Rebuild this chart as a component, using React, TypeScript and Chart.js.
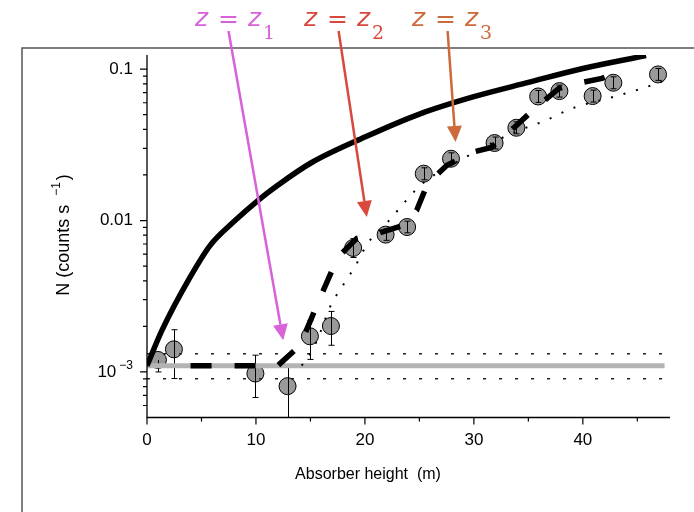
import React, { useEffect, useRef } from 'react';
import { Chart, registerables } from 'chart.js';

Chart.register(...registerables);

// ---------- data ----------
const xMin = 0;
const xMax = 48;
const yMin = 5e-4;
const yMax = 0.124;

const xTickValues = [0, 10, 20, 30, 40];
const xTickLabels = ['0', '10', '20', '30', '40'];
const xMinorTicks = [5, 15, 25, 35, 45];

const yTickValues = [0.001, 0.01, 0.1];
const yTickLabels = ['10', '0.01', '0.1'];
const yTickExponents = ['\u22123', '', ''];
const yMinorTicks = [
  6e-4, 7e-4, 8e-4, 9e-4,
  2e-3, 3e-3, 4e-3, 5e-3, 6e-3, 7e-3, 8e-3, 9e-3,
  2e-2, 3e-2, 4e-2, 5e-2, 6e-2, 7e-2, 8e-2, 9e-2,
];

// measured points
const pointX = [1.0, 2.47, 9.95, 12.9, 14.95, 16.88, 18.92, 21.9, 23.87, 25.4, 27.9, 31.9, 33.9, 35.9, 37.85, 40.9, 42.8, 46.9];
const pointN = [1.2e-3, 1.41e-3, 0.976e-3, 0.805e-3, 1.72e-3, 2.01e-3, 6.59e-3, 8.07e-3, 9.06e-3, 0.0204, 0.0256, 0.0325, 0.041, 0.066, 0.0716, 0.0664, 0.0813, 0.0923];
const pointLow = [1.0e-3, 0.904e-3, 0.678e-3, 0.5e-3, 1.21e-3, 1.5e-3, 5.7e-3, 7.4e-3, 8.3e-3, 0.0186, 0.0234, 0.0297, 0.0374, 0.0603, 0.0654, 0.0606, 0.0742, 0.0843];
const pointHigh = [1.2e-3, 1.9e-3, 1.29e-3, 1.107e-3, 2.19e-3, 2.51e-3, 7.6e-3, 8.8e-3, 9.9e-3, 0.0223, 0.028, 0.0356, 0.0449, 0.0723, 0.0784, 0.0727, 0.089, 0.101];

// background level and its band
const bgLevel = 1.1e-3;
const bgUpper = 1.32e-3;
const bgLower = 0.9e-3;
const bgX = [0, 47.5];

// model curves
const solidX = [0, 1.37, 3.97, 5.8, 7.93, 10.2, 12, 15, 20, 25, 30, 35, 40, 45.8];
const solidN = [1.1e-3, 1.88e-3, 4.24e-3, 6.86e-3, 9.77e-3, 0.0136, 0.0171, 0.0239, 0.0356, 0.0505, 0.0658, 0.0817, 0.101, 0.123];

const dashX = [4.0, 12.0, 14.05, 15.7, 17.5, 19.25, 21.2, 23.5, 24.75, 25.76, 27.5, 29.8, 31.6, 33.7, 35.6, 37.8, 39.5, 41.75, 43.6];
const dashN = [1.1e-3, 1.1e-3, 1.5e-3, 2.88e-3, 5.71e-3, 7.62e-3, 8.22e-3, 9.29e-3, 0.01167, 0.0176, 0.0231, 0.0282, 0.0304, 0.0412, 0.055, 0.0746, 0.0805, 0.0869, 0.0995];

const dotX = [14.2, 15.1, 15.87, 16.8, 18.16, 19.07, 20.27, 22.1, 23.8, 25.3, 29.3, 33.5, 36.6, 39.0, 42.7, 45.8, 47.9];
const dotN = [1.1e-3, 1.36e-3, 1.8e-3, 2.69e-3, 3.91e-3, 4.93e-3, 7.08e-3, 9.78e-3, 0.0136, 0.0176, 0.0263, 0.0377, 0.0459, 0.055, 0.0653, 0.076, 0.0865];

// annotations
const annSubscripts = ['1', '2', '3'];
const annColors = ['#d862d8', '#d9483d', '#cd6a3c'];
const annTipX = [12.5, 20.17, 28.32];
const annTipN = [1.62e-3, 0.01055, 0.033];

const xTitle = 'Absorber height  (m)';
const yTitleMain = 'N (counts s';
const yTitleSup = '\u22121';
const yTitleEnd = ')';

const zip = (xs: number[], ys: number[]) => xs.map((x, i) => ({ x, y: ys[i] }));

const SANS = '"Liberation Sans", Arial, sans-serif';
const MATH = '"DejaVu Sans", sans-serif';
const MATHSUB = '"DejaVu Serif", serif';

const overlayPlugin = {
  id: 'overlay',
  beforeDraw(chart: any) {
    const ctx = chart.ctx;
    ctx.save();
    ctx.fillStyle = '#ffffff';
    ctx.fillRect(0, 0, chart.width, chart.height);
    ctx.strokeStyle = '#555555';
    ctx.lineWidth = 1.5;
    ctx.beginPath();
    ctx.moveTo(22, chart.height);
    ctx.lineTo(22, 48);
    ctx.lineTo(chart.width, 48);
    ctx.stroke();
    ctx.restore();
  },
  afterDatasetDraw(chart: any, args: any) {
    if (args.index !== 0) return;
    const ctx = chart.ctx;
    const xs = chart.scales.x;
    const ys = chart.scales.y;
    ctx.save();
    ctx.strokeStyle = '#000';
    ctx.lineWidth = 1;
    for (let i = 0; i < pointX.length; i++) {
      const px = Math.round(xs.getPixelForValue(pointX[i])) + 0.5;
      const pc = ys.getPixelForValue(pointN[i]);
      const pl = ys.getPixelForValue(pointLow[i]);
      const ph = ys.getPixelForValue(pointHigh[i]);
      ctx.beginPath();
      ctx.moveTo(px, ph);
      ctx.lineTo(px, pl);
      if (Math.abs(ph - pc) > 1) {
        ctx.moveTo(px - 3, ph);
        ctx.lineTo(px + 3, ph);
      }
      if (Math.abs(pl - pc) > 1) {
        ctx.moveTo(px - 3, pl);
        ctx.lineTo(px + 3, pl);
      }
      ctx.stroke();
    }
    ctx.restore();
  },
  afterDraw(chart: any) {
    const ctx = chart.ctx;
    const xs = chart.scales.x;
    const ys = chart.scales.y;
    const a = chart.chartArea;
    ctx.save();

    // axes
    ctx.strokeStyle = '#000';
    ctx.lineWidth = 1.3;
    ctx.beginPath();
    ctx.moveTo(a.left, a.top);
    ctx.lineTo(a.left, a.bottom);
    ctx.lineTo(a.right, a.bottom);
    ctx.stroke();

    ctx.lineWidth = 1.2;
    ctx.beginPath();
    yTickValues.forEach((v) => {
      const p = ys.getPixelForValue(v);
      ctx.moveTo(a.left - 7, p);
      ctx.lineTo(a.left, p);
    });
    yMinorTicks.forEach((v) => {
      const p = ys.getPixelForValue(v);
      ctx.moveTo(a.left - 4, p);
      ctx.lineTo(a.left, p);
    });
    xTickValues.forEach((v) => {
      const p = xs.getPixelForValue(v);
      ctx.moveTo(p, a.bottom);
      ctx.lineTo(p, a.bottom + 7);
    });
    xMinorTicks.forEach((v) => {
      const p = xs.getPixelForValue(v);
      ctx.moveTo(p, a.bottom);
      ctx.lineTo(p, a.bottom + 4);
    });
    ctx.stroke();

    // tick labels
    ctx.fillStyle = '#000';
    ctx.textBaseline = 'middle';
    yTickValues.forEach((v, i) => {
      const p = ys.getPixelForValue(v);
      let right = a.left - 14;
      if (yTickExponents[i]) {
        ctx.font = `12px ${SANS}`;
        ctx.textAlign = 'right';
        ctx.fillText(yTickExponents[i], right, p - 6);
        right -= ctx.measureText(yTickExponents[i]).width + 3;
      }
      ctx.font = `17px ${SANS}`;
      ctx.textAlign = 'right';
      ctx.fillText(yTickLabels[i], right, p);
    });
    ctx.font = `17px ${SANS}`;
    ctx.textAlign = 'center';
    xTickValues.forEach((v, i) => {
      ctx.fillText(xTickLabels[i], xs.getPixelForValue(v), a.bottom + 23);
    });

    // axis titles
    ctx.textAlign = 'center';
    ctx.textBaseline = 'middle';
    ctx.font = `16px ${SANS}`;
    ctx.fillText(xTitle, 368, 475);

    ctx.save();
    ctx.translate(64, 235);
    ctx.rotate(-Math.PI / 2);
    ctx.textAlign = 'left';
    ctx.font = `18px ${SANS}`;
    const w1 = ctx.measureText(yTitleMain).width;
    const w3 = ctx.measureText(yTitleEnd).width;
    ctx.font = `12px ${SANS}`;
    const w2 = ctx.measureText(yTitleSup).width;
    const gap = 9;
    const total = w1 + gap + w2 + 2 + w3;
    let cx = -total / 2;
    ctx.font = `18px ${SANS}`;
    ctx.fillText(yTitleMain, cx, 0);
    cx += w1 + gap;
    ctx.font = `12px ${SANS}`;
    ctx.fillText(yTitleSup, cx, -7);
    cx += w2 + 2;
    ctx.font = `18px ${SANS}`;
    ctx.fillText(yTitleEnd, cx, 0);
    ctx.restore();

    // annotations: labels and arrows
    const labelX = [195, 304, 412];
    const startX = [228.5, 338.6, 447.6];
    annSubscripts.forEach((sub, i) => {
      const x0 = labelX[i];
      ctx.fillStyle = annColors[i];
      ctx.strokeStyle = annColors[i];
      ctx.textAlign = 'left';
      ctx.textBaseline = 'alphabetic';
      ctx.font = `italic 25px ${MATH}`;
      ctx.fillText('z', x0, 26);
      ctx.font = `25px ${MATH}`;
      ctx.fillText('=', x0 + 23, 27);
      ctx.font = `italic 25px ${MATH}`;
      ctx.fillText('z', x0 + 53, 26);
      ctx.font = `19px ${MATHSUB}`;
      ctx.fillText(sub, x0 + 68, 39);

      const sx = startX[i];
      const sy = 31;
      const tx = xs.getPixelForValue(annTipX[i]);
      const ty = ys.getPixelForValue(annTipN[i]);
      const ang = Math.atan2(ty - sy, tx - sx);
      const headLen = 16;
      const headHalf = 7.5;
      const bx = tx - headLen * Math.cos(ang);
      const by = ty - headLen * Math.sin(ang);
      ctx.lineWidth = 2.5;
      ctx.beginPath();
      ctx.moveTo(sx, sy);
      ctx.lineTo(bx, by);
      ctx.stroke();
      ctx.beginPath();
      ctx.moveTo(tx, ty);
      ctx.lineTo(bx + headHalf * Math.sin(ang), by - headHalf * Math.cos(ang));
      ctx.lineTo(bx - headHalf * Math.sin(ang), by + headHalf * Math.cos(ang));
      ctx.closePath();
      ctx.fill();
    });

    ctx.restore();
  },
};

export default function App() {
  const canvasRef = useRef<HTMLCanvasElement | null>(null);

  useEffect(() => {
    if (!canvasRef.current) return;
    const chart = new Chart(canvasRef.current, {
      type: 'line',
      data: {
        datasets: [
          {
            type: 'line',
            data: zip(pointX, pointN),
            showLine: false,
            pointRadius: 8.5,
            pointBackgroundColor: '#999999',
            pointBorderColor: '#000000',
            pointBorderWidth: 1,
            order: 6,
          },
          {
            type: 'line',
            data: zip(bgX, [bgLevel, bgLevel]),
            borderColor: '#b3b3b3',
            borderWidth: 5,
            pointRadius: 0,
            order: 5,
          },
          {
            type: 'line',
            data: zip(bgX, [bgUpper, bgUpper]),
            borderColor: '#222222',
            borderWidth: 1.5,
            borderDash: [3, 13],
            pointRadius: 0,
            order: 5,
          },
          {
            type: 'line',
            data: zip(bgX, [bgLower, bgLower]),
            borderColor: '#222222',
            borderWidth: 1.5,
            borderDash: [3, 13],
            pointRadius: 0,
            order: 5,
          },
          {
            type: 'line',
            data: zip(dotX, dotN),
            borderColor: '#000000',
            borderWidth: 2,
            borderDash: [2, 11],
            pointRadius: 0,
            cubicInterpolationMode: 'monotone',
            order: 4,
          },
          {
            type: 'line',
            data: zip(dashX, dashN),
            borderColor: '#000000',
            borderWidth: 5.5,
            borderDash: [21, 23],
            pointRadius: 0,
            tension: 0,
            order: 3,
          },
          {
            type: 'line',
            data: zip(solidX, solidN),
            borderColor: '#000000',
            borderWidth: 5.5,
            pointRadius: 0,
            cubicInterpolationMode: 'monotone',
            order: 2,
          },
        ],
      },
      options: {
        animation: false,
        responsive: false,
        maintainAspectRatio: false,
        events: [],
        layout: { padding: { left: 147, right: 24, top: 55, bottom: 94.5 } },
        scales: {
          x: { type: 'linear', min: xMin, max: xMax, display: false },
          y: { type: 'logarithmic', min: yMin, max: yMax, display: false },
        },
        plugins: {
          legend: { display: false },
          tooltip: { enabled: false },
          title: { display: false },
        },
      },
      plugins: [overlayPlugin],
    } as any);
    return () => chart.destroy();
  }, []);

  return (
    <div style={{ position: 'absolute', left: 0, top: 0, width: 694, height: 512 }}>
      <canvas ref={canvasRef} width={694} height={512} style={{ display: 'block' }} />
    </div>
  );
}
